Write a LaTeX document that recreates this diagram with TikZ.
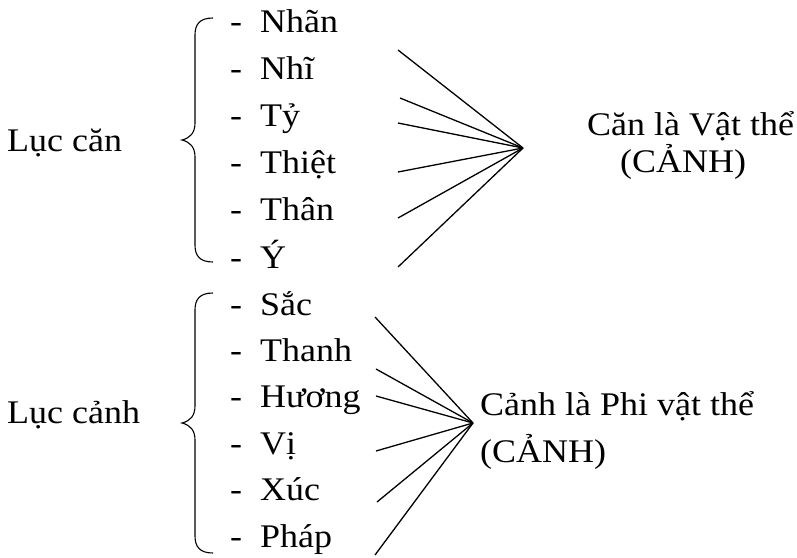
\documentclass[tikz,border=0pt]{standalone}
\usepackage{fontspec}
\setmainfont[FakeStretch=1.09]{Liberation Serif}
\begin{document}
\begin{tikzpicture}[x=1pt,y=-1pt,
  txt/.style={anchor=base west,inner sep=0pt,font=\fontsize{33}{36}\selectfont},
  ln/.style={line width=1.3pt},
  br/.style={line width=1.1pt}]
\useasboundingbox (0,0) rectangle (797,557);
% left labels
\node[txt] (lc) at (7,151) {Lục căn};
\node[txt] (lk) at (7,423) {Lục cảnh};
% upper list
\foreach \t [count=\i] in {Nhãn,Nhĩ,Tỷ,Thiệt,Thân,Ý}{
  \node[txt] (ud\i) at (230,{32+47.2*(\i-1)}) {-};
  \node[txt] (u\i) at (260,{32+47.2*(\i-1)}) {\t};
}
% lower list
\foreach \t [count=\i] in {Sắc,Thanh,Hương,Vị,Xúc,Pháp}{
  \node[txt] (ld\i) at (230,{315+46.4*(\i-1)}) {-};
  \node[txt] (l\i) at (260,{315+46.4*(\i-1)}) {\t};
}
% braces
\draw[br] (213,18) .. controls (200,18) and (195,24) .. (195,35) -- (195,123)
  .. controls (195,133) and (190,138) .. (182,140)
  .. controls (190,142) and (195,147) .. (195,157) -- (195,245)
  .. controls (195,256) and (200,262) .. (213,262);
\draw[br] (213,293) .. controls (200,293) and (195,299) .. (195,310) -- (195,406)
  .. controls (195,416) and (190,421) .. (182,423)
  .. controls (190,425) and (195,430) .. (195,440) -- (195,536)
  .. controls (195,547) and (200,553) .. (213,553);
% upper fan
\coordinate (uh) at (523,148);
\coordinate (us1) at (398,50);
\coordinate (us2) at (400,98);
\coordinate (us3) at (398,123);
\coordinate (us4) at (398,172);
\coordinate (us5) at (398,218);
\coordinate (us6) at (398,267);
\foreach \i in {1,...,6} \draw[ln] (us\i) -- (uh);
% lower fan
\coordinate (lh) at (473,423);
\coordinate (ls1) at (375,317);
\coordinate (ls2) at (376,369);
\coordinate (ls3) at (376,396);
\coordinate (ls4) at (376,451);
\coordinate (ls5) at (377,502);
\coordinate (ls6) at (375,555);
\foreach \i in {1,...,6} \draw[ln] (ls\i) -- (lh);
% right labels
\node[txt] (r1) at (587,135) {Căn là Vật thể};
\node[txt] (r2) at (620,172) {(CẢNH)};
\node[txt] (r3) at (480,415) {Cảnh là Phi vật thể};
\node[txt] (r4) at (480,462) {(CẢNH)};
\end{tikzpicture}
\end{document}
